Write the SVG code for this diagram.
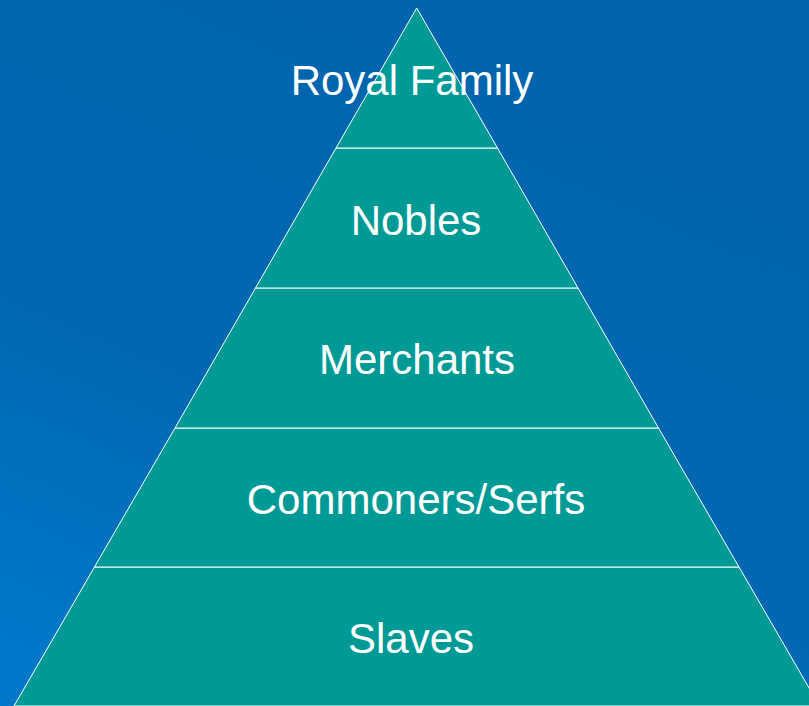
<svg xmlns="http://www.w3.org/2000/svg" width="809" height="706" viewBox="0 0 809 706">
<defs>
<linearGradient id="bg" x1="0.7" y1="0" x2="0.2" y2="1">
<stop offset="0" stop-color="#0064ad"/>
<stop offset="0.6" stop-color="#0067b2"/>
<stop offset="1" stop-color="#0078c9"/>
</linearGradient>
<style>
.layer{fill:#009a96;stroke:#ffffff;stroke-width:1}
.lbl{font-family:"Liberation Sans",Arial,sans-serif;font-size:42px;fill:#ffffff;text-anchor:middle}
</style>
</defs>
<rect width="809" height="706" fill="url(#bg)"/>
<g id="slaves"><polygon class="layer" points="94.5,567 739,567 819.5,706 14,706"/><text class="lbl" x="411" y="653">Slaves</text></g>
<g id="commoners"><polygon class="layer" points="175,428 658.5,428 739,567 94.5,567"/><text class="lbl" x="416" y="514">Commoners/Serfs</text></g>
<g id="merchants"><polygon class="layer" points="255.5,288 578,288 658.5,428 175,428"/><text class="lbl" x="417" y="374">Merchants</text></g>
<g id="nobles"><polygon class="layer" points="336,148 497.5,148 578,288 255.5,288"/><text class="lbl" x="416" y="235">Nobles</text></g>
<g id="royal"><polygon class="layer" points="416.7,8 497.5,148 336,148"/><text class="lbl" x="412" y="95">Royal Family</text></g>
<g id="connectors"/>
</svg>
